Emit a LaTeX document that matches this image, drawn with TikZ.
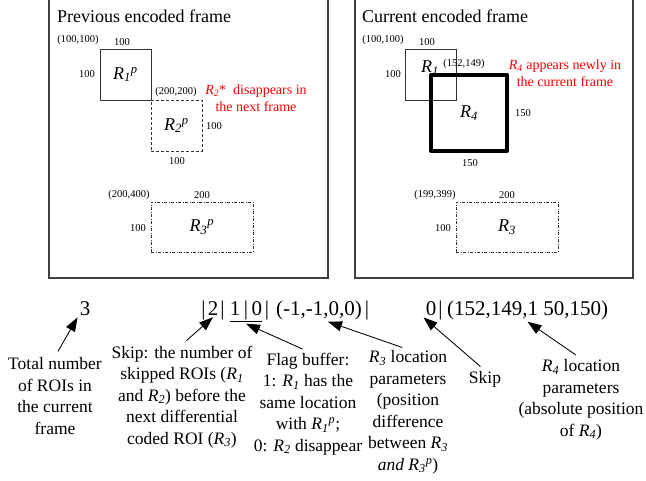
\documentclass[tikz,border=0pt]{standalone}
\usepackage{fontspec}
\setmainfont{Liberation Serif}
\usetikzlibrary{arrows.meta}
\newcommand{\setfs}[2]{\fontsize{#1}{#2}\selectfont}
\newcommand{\Rsub}[1]{\textit{R}\textsubscript{\textit{#1}}}
\newcommand{\Rsp}[2]{\textit{R}\textsubscript{\textit{#1}}\textsuperscript{\textit{#2}}}

\tikzset{
	frame/.style={line width=0.55mm, draw=black!75},
	title/.style={font=\setfs{18}{21}, inner sep=0pt, anchor=base west},
	roi/.style={draw=black!80, line width=0.3mm, inner sep=0pt, font=\setfs{18}{21}},
	roidash/.style={roi, dash pattern=on 3pt off 2pt},
	roidot/.style={roi, dash pattern=on 3pt off 1.5pt on 1pt off 1.5pt},
	dim/.style={font=\setfs{10.5}{12}, inner sep=0pt},
	rednote/.style={text=red, align=center, font=\setfs{14}{17}, inner sep=0pt},
	bits/.style={font=\setfs{21}{24}, inner sep=2pt, anchor=base},
	note/.style={align=center, font=\setfs{17.5}{21.5}, inner sep=1pt, anchor=north},
	pointer/.style={-{Triangle[length=14pt,width=10pt]}, line width=0.3mm, shorten <=6pt}
}

\begin{document}
\begin{tikzpicture}[x=1pt, y=-1pt]
			\useasboundingbox (0,0) rectangle (646,480);
			%%%%% START %%%%%
			
			% previous encoded frame
			\draw[frame] (49,-5) -- (49,278) -- (328,278) -- (328,-5);
			\node[title] (tprev) at (57,22) {Previous encoded frame};
			
			\node[roi, minimum width=51, minimum height=51] (r1p) at (125.5,74.5) {\Rsp{1}{p}};
			\node[dim] (r1pxy) at (78,40) {(100,100)};
			\node[dim] (r1pw) at (122,42) {100};
			\node[dim] (r1ph) at (87,74) {100};
			
			\node[roidash, minimum width=51, minimum height=51] (r2p) at (176.5,125.5) {\Rsp{2}{p}};
			\node[dim] (r2pxy) at (176,92) {(200,200)};
			\node[dim] (r2ph) at (214,126) {100};
			\node[dim] (r2pw) at (177,161) {100};
			\node[rednote] (gone) at (256,98.5) {\Rsub{2}*\ \ disappears in\\the next frame};
			
			\node[roidot, minimum width=102, minimum height=50] (r3p) at (202,227) {\Rsp{3}{p}};
			\node[dim] (r3pxy) at (129,195) {(200,400)};
			\node[dim] (r3pw) at (202,195) {200};
			\node[dim] (r3ph) at (138,228) {100};
			
			% current encoded frame
			\draw[frame] (355,-5) -- (355,278) -- (633,278) -- (633,-5);
			\node[title] (tcur) at (362,22) {Current encoded frame};
			
			\node[roi, minimum width=51, minimum height=51] (r1) at (430.5,74.5) {};
			\node[font=\setfs{18}{21}, inner sep=0pt] (r1lbl) at (430,68) {\Rsub{1}};
			\node[dim] (r1xy) at (383,40) {(100,100)};
			\node[dim] (r1w) at (427,42) {100};
			\node[dim] (r1h) at (393,74) {100};
			
			\node[roi, draw=black, line width=1.4mm, line join=round, minimum width=76, minimum height=76] (r4) at (469,113) {\Rsub{4}};
			\node[dim] (r4xy) at (464,64) {(152,149)};
			\node[dim] (r4h) at (523,113) {150};
			\node[dim] (r4w) at (470,163) {150};
			\node[rednote] (new) at (565,73.5) {\Rsub{4} appears newly in\\the current frame};
			
			\node[roidot, minimum width=102, minimum height=50] (r3) at (507,227) {\Rsub{3}};
			\node[dim] (r3xy) at (435,195) {(199,399)};
			\node[dim] (r3w) at (507,195) {200};
			\node[dim] (r3h) at (443,228) {100};
			
			% bit stream
			\node[bits] (cnt) at (85,315) {3};
			\node[bits] (bar1) at (203.5,315) {|};
			\node[bits] (skp) at (213,315) {2};
			\node[bits] (bar2) at (222.5,315) {|};
			\node[bits] (flag) at (246,315) {\underline{1\,|\,0}};
			\node[bits] (bar3) at (267,315) {|};
			\node[bits] (par3) at (319,315) {(-1,-1,0,0)};
			\node[bits] (bar4) at (367,315) {|};
			\node[bits] (skp2) at (431,315) {0};
			\node[bits] (bar5) at (440.5,315) {|};
			\node[bits] (par4) at (527.5,315) {(152,149,1 50,150)};
			
			% notes
			\node[note] (ntot) at (55,356.5) {Total number\\of ROIs in\\the current\\frame};
			\node[note] (nskp) at (182,344.5) {Skip: the number of\\skipped ROIs (\Rsub{1}\\and \Rsub{2}) before the\\next differential\\coded ROI (\Rsub{3})};
			\node[note] (nflag) at (308,351.5) {Flag buffer:\\1: \Rsub{1} has the\\same location\\with \Rsp{1}{p};\\0: \Rsub{2} disappear};
			\node[note] (npar3) at (408,349.5) {\Rsub{3} location\\parameters\\(position\\difference\\between \Rsub{3}\\\textit{and} \Rsp{3}{p})};
			\node[note] (nskp2) at (485,370.5) {Skip};
			\node[note] (npar4) at (581,358.5) {\Rsub{4} location\\parameters\\(absolute position\\of \Rsub{4})};
			
			\draw[pointer] (ntot.north) -- (cnt.south west);
			\draw[pointer] (nskp.north) -- (skp.south);
			\draw[pointer] (nflag.north) -- (flag.south);
			\draw[pointer] (npar3.north) -- ([xshift=9pt]par3.south);
			\draw[pointer] (nskp2.north) -- (skp2.south west);
			\draw[pointer] (npar4.north) -- (par4.south);
			
			%%%%% END %%%%%
\end{tikzpicture}
\end{document}
